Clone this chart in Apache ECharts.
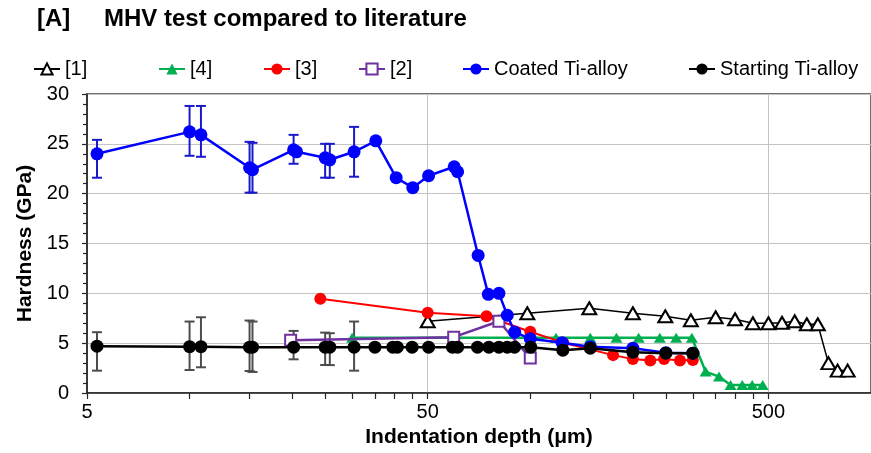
<!DOCTYPE html>
<html><head><meta charset="utf-8">
<script src="https://cdn.jsdelivr.net/npm/echarts@6/dist/echarts.min.js"></script>
<style>html,body{margin:0;padding:0;background:#fff}#c{width:871px;height:453px}</style>
</head><body><div id="c"></div>
<script>
// ---- axis tick values ----
const xTickValues = [5,10,15,20,25,30,35,40,45,50,100,150,200,250,300,350,400,450,500];
const xLabelValues = [5,50,500];
const xGridValues = [50,500];
const xMin = 5, xMax = 1000;
const yMin = 0, yMax = 30, yStep = 5;

// ---- series [1] ----
const ref1X = [50,98,149,200,249,296,350,399,450,500,548,597,648,698,750,798,854];
const ref1Y = [7.2,8.0,8.5,8.0,7.7,7.3,7.6,7.4,7.0,7.0,7.05,7.2,6.9,6.9,3.0,2.25,2.25];
// ---- series [4] ----
const ref4X = [30,119,150,179,208,240,268,298,327,358,387,419,448,481];
const ref4Y = [5.55,5.55,5.55,5.55,5.55,5.55,5.55,5.55,2.15,1.65,0.8,0.8,0.8,0.8];
// ---- series [3] ----
const ref3X = [24.2,50,74.4,100,125,175,200,225,247,275,300];
const ref3Y = [9.45,8.05,7.7,6.15,5.05,3.8,3.4,3.25,3.4,3.25,3.3];
// ---- series [2] ----
const ref2X = [19.8,59.6,80.9,100];
const ref2Y = [5.3,5.6,7.2,3.5];
// ---- Coated Ti-alloy ----
const coatedX = [5.35,10,10.8,15,15.3,20.2,20.6,25,25.8,30.4,35.2,40.4,45.2,50.3,59.8,61.2,70.3,75.3,80.9,85.6,90,100,124,150,200,250,300];
const coatedY = [24.0,26.2,25.9,22.6,22.4,24.4,24.2,23.6,23.4,24.2,25.3,21.6,20.6,21.8,22.7,22.2,13.8,9.9,10.0,7.8,6.1,5.45,5.05,4.65,4.5,4.05,4.0];
// error bars (Coated)
const coatedErrX  = [5.35,10,10.8,15,15.3,20.2,25,25.8,30.4];
const coatedErrLo = [21.6,23.8,23.7,20.1,20.1,23.0,21.6,21.6,21.7];
const coatedErrHi = [25.4,28.8,28.8,25.2,25.1,25.9,25.0,25.0,26.7];
// ---- Starting Ti-alloy ----
const startX = [5.35,10,10.8,15,15.3,20.2,25,25.8,30.4,35,39.5,40.7,45,50.3,59.1,61.2,70,75.6,80.9,85.6,89.9,100.3,124.6,150,200,250,300];
const startY = [4.7,4.65,4.65,4.6,4.6,4.6,4.6,4.6,4.6,4.6,4.6,4.6,4.6,4.6,4.6,4.6,4.6,4.6,4.6,4.6,4.6,4.6,4.3,4.5,4.1,4.0,4.0];
// error bars (Starting)
const startErrX  = [5.35,10,10.8,15,15.3,20.2,25,25.8,30.4];
const startErrLo = [2.24,2.31,2.58,2.21,2.11,3.38,2.81,2.8,2.24];
const startErrHi = [6.1,7.17,7.6,7.27,7.17,6.23,6.06,6.0,7.17];

const names = ['[1]','[4]','[3]','[2]','Coated Ti-alloy','Starting Ti-alloy'];
const legendLeft = [33,158,263,358,462,688];

function zip(a,b){ return a.map((v,i)=>[v,b[i]]); }
function zip3(a,b,c){ return a.map((v,i)=>[v,b[i],c[i]]); }

function errRender(color){
  return function(params, api){
    const x = api.value(0), lo = api.value(1), hi = api.value(2);
    const p1 = api.coord([x, lo]), p2 = api.coord([x, hi]);
    const w = 5;
    const st = {stroke: color, lineWidth: 2};
    return {type:'group', children:[
      {type:'line', shape:{x1:p1[0],y1:p1[1],x2:p2[0],y2:p2[1]}, style:st},
      {type:'line', shape:{x1:p1[0]-w,y1:p1[1],x2:p1[0]+w,y2:p1[1]}, style:st},
      {type:'line', shape:{x1:p2[0]-w,y1:p2[1],x2:p2[0]+w,y2:p2[1]}, style:st}
    ]};
  };
}

const FONT = 'Liberation Sans, Arial, sans-serif';
const chart = echarts.init(document.getElementById('c'), null, {renderer:'canvas'});

const legends = names.map((n,i)=>({
  data:[n], left: legendLeft[i], top: 59, padding: 0,
  itemWidth: 26, itemHeight: 14, itemGap: 4,
  textStyle:{fontFamily:FONT, fontSize:20, color:'#000', padding:[0,0,0,0]}
}));

const baseX = {
  type:'log', logBase:10, min:xMin, max:xMax, gridIndex:0
};

chart.setOption({
  animation:false,
  backgroundColor:'#fff',
  title:[
    {text:'[A]', left:37, top:7, padding:0, textStyle:{fontFamily:FONT, fontSize:24, fontWeight:'bold', color:'#000'}},
    {text:'MHV test compared to literature', left:104, top:7, padding:0, textStyle:{fontFamily:FONT, fontSize:24, fontWeight:'bold', color:'#000'}}
  ],
  legend: legends,
  grid:{left:87, right:-5, top:94, bottom:60, show:true, borderColor:'#404040', borderWidth:1.5, containLabel:false},
  xAxis:[
    Object.assign({}, baseX, {
      position:'bottom',
      name:'Indentation depth (μm)', nameLocation:'middle', nameGap:34,
      nameTextStyle:{fontFamily:FONT, fontSize:21, fontWeight:'bold', color:'#000'},
      axisLine:{show:true, lineStyle:{color:'#262626', width:1.5}},
      axisTick:{show:true, inside:false, length:6, customValues:xTickValues, lineStyle:{color:'#262626', width:1.2}},
      axisLabel:{show:true, customValues:xLabelValues, margin:9, fontFamily:FONT, fontSize:20, color:'#000'},
      splitLine:{show:false}
    }),
    Object.assign({}, baseX, {
      position:'bottom',
      axisLine:{show:false},
      axisTick:{show:false, customValues:xGridValues},
      axisLabel:{show:false, customValues:xGridValues},
      splitLine:{show:true, lineStyle:{color:'#c4c4c4', width:1}}
    })
  ],
  yAxis:{
    type:'value', min:yMin, max:yMax, interval:yStep,
    name:'Hardness (GPa)', nameLocation:'middle', nameGap:49, nameRotate:90,
    nameTextStyle:{fontFamily:FONT, fontSize:21, fontWeight:'bold', color:'#000'},
    axisLine:{show:true, lineStyle:{color:'#262626', width:1.5}},
    axisTick:{show:true, inside:false, length:5, lineStyle:{color:'#262626', width:1.2}},
    minorTick:{show:true, splitNumber:5, length:4, lineStyle:{color:'#262626', width:1.2}},
    axisLabel:{margin:18, fontFamily:FONT, fontSize:20, color:'#000'},
    splitLine:{show:true, lineStyle:{color:'#c4c4c4', width:1}}
  },
  series:[
    {type:'custom', name:'errStart', xAxisIndex:0, z:1, renderItem:errRender('#4d4d4d'),
     encode:{x:0, y:[1,2]}, data:zip3(startErrX,startErrLo,startErrHi), silent:true},
    {type:'custom', name:'errCoated', xAxisIndex:0, z:1, renderItem:errRender('#1a1acc'),
     encode:{x:0, y:[1,2]}, data:zip3(coatedErrX,coatedErrLo,coatedErrHi), silent:true},
    {type:'line', name:names[0], xAxisIndex:0, z:2, data:zip(ref1X,ref1Y),
     symbol:'triangle', symbolSize:[14,12], showAllSymbol:true,
     lineStyle:{color:'#000', width:1.5}, itemStyle:{color:'#fff', borderColor:'#000', borderWidth:2}},
    {type:'line', name:names[1], xAxisIndex:0, z:3, data:zip(ref4X,ref4Y),
     symbol:'triangle', symbolSize:[12,10], showAllSymbol:true,
     lineStyle:{color:'#00B050', width:2.5}, itemStyle:{color:'#00B050'}},
    {type:'line', name:names[2], xAxisIndex:0, z:4, data:zip(ref3X,ref3Y),
     symbol:'circle', symbolSize:12, showAllSymbol:true,
     lineStyle:{color:'#FF0000', width:2}, itemStyle:{color:'#FF0000'}},
    {type:'line', name:names[3], xAxisIndex:0, z:5, data:zip(ref2X,ref2Y),
     symbol:'rect', symbolSize:11, showAllSymbol:true,
     lineStyle:{color:'#7030A0', width:2.5}, itemStyle:{color:'#fff', borderColor:'#7030A0', borderWidth:2}},
    {type:'line', name:names[4], xAxisIndex:0, z:6, data:zip(coatedX,coatedY),
     symbol:'circle', symbolSize:13, showAllSymbol:true,
     lineStyle:{color:'#0000FF', width:2.5}, itemStyle:{color:'#0000FF'}},
    {type:'line', name:names[5], xAxisIndex:0, z:7, data:zip(startX,startY),
     symbol:'circle', symbolSize:13, showAllSymbol:true,
     lineStyle:{color:'#000', width:2.5}, itemStyle:{color:'#000'}}
  ]
});
</script>
</body></html>
